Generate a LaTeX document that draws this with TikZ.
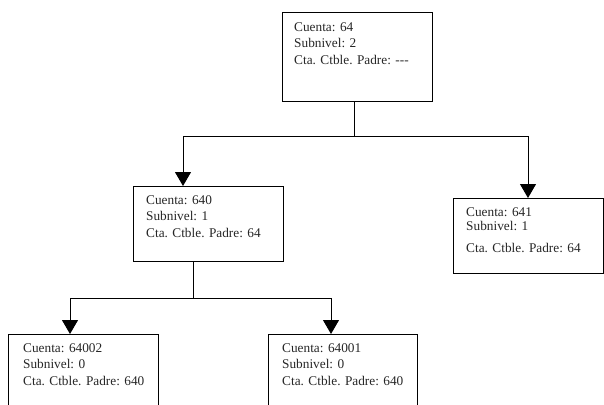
\documentclass[tikz,border=0pt]{standalone}
\usepackage{fontspec}
\setmainfont{Liberation Serif}
\usetikzlibrary{arrows.meta}

\tikzset{
  acct/.style={draw=black, line width=1pt, rectangle, inner sep=0pt, anchor=north west},
  acctxt/.style={anchor=north west, inner sep=0pt, align=left, text=black!85,
                 font=\fontsize{13.3pt}{16.5pt}\selectfont},
  link/.style={draw=black, line width=1pt},
  arrowlink/.style={link, -{Triangle[width=16pt,length=14pt]}}
}

\begin{document}
\begin{tikzpicture}[x=1pt, y=-1pt]
  \useasboundingbox (0,0) rectangle (604,404);
  \clip (0,0) rectangle (604,404);

  % account boxes
  \node[acct, minimum width=150pt, minimum height=89pt] (c64) at (282,12) {};
  \node[acct, minimum width=150pt, minimum height=75pt] (c640) at (133,186) {};
  \node[acct, minimum width=150pt, minimum height=75pt] (c641) at (453,198) {};
  \node[acct, minimum width=150pt, minimum height=90pt] (c64002) at (8,334) {};
  \node[acct, minimum width=149pt, minimum height=90pt] (c64001) at (268,334) {};

  % box contents
  \node[acctxt] (t64) at (294,22) {Cuenta: 64\\Subnivel: 2\\Cta. Ctble. Padre: -{}-{}-};
  \node[acctxt] (t640) at (146,195) {Cuenta: 640\\Subnivel: 1\\Cta. Ctble. Padre: 64};
  \node[acctxt] (t641) at (466,207) {Cuenta: 641\\[-2.5pt]Subnivel: 1\\[5.5pt]Cta. Ctble. Padre: 64};
  \node[acctxt] (t64002) at (23,343) {Cuenta: 64002\\Subnivel: 0\\Cta. Ctble. Padre: 640};
  \node[acctxt] (t64001) at (282,343) {Cuenta: 64001\\Subnivel: 0\\Cta. Ctble. Padre: 640};

  % branch points and arrival points
  \coordinate (out64) at (354,101);
  \coordinate (j64) at (354,136);
  \coordinate (in640) at (183,186);
  \coordinate (in641) at (528,198);
  \coordinate (out640) at (193,261);
  \coordinate (j640) at (193,298);
  \coordinate (in64002) at (70,334);
  \coordinate (in64001) at (331,334);

  % connectors
  \draw[link] (out64) -- (j64);
  \draw[arrowlink] (j64) -| (in640);
  \draw[arrowlink] (j64) -| (in641);
  \draw[link] (out640) -- (j640);
  \draw[arrowlink] (j640) -| (in64002);
  \draw[arrowlink] (j640) -| (in64001);
\end{tikzpicture}
\end{document}
